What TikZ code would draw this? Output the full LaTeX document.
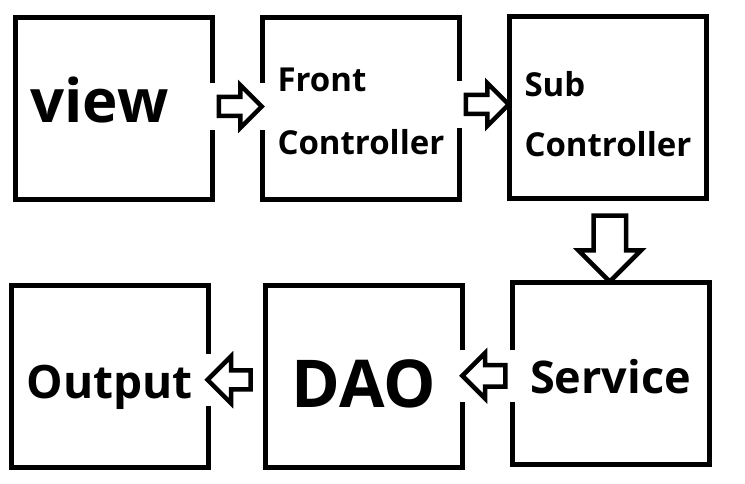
\documentclass[tikz,border=0pt]{standalone}
\usepackage{fontspec}
\setmainfont{Open Sans}
\usepackage{tikz}
\usetikzlibrary{shapes.arrows,calc}

\begin{document}
\begin{tikzpicture}[x=1pt,y=-1pt,
  box/.style={draw, line width=5pt, minimum height=182pt, text width=167pt, inner xsep=15pt, align=left},
  arr/.style={draw, single arrow, line width=4.5pt, line join=miter, inner xsep=0pt, inner ysep=7.25pt, single arrow head extend=12pt, single arrow tip angle=90, minimum height=43pt, fill=white},
  gap/.style={fill=white}]
\useasboundingbox (0,0) rectangle (745,484);
% top row
\node[box, text height=29pt, text depth=0pt, font=\bfseries\fontsize{60}{60}\selectfont] at (114,108.5) (view) {view};
\node[box, font=\bfseries\fontsize{33}{63}\selectfont] at (361,108.5) (front) {\rule{0pt}{30pt}Front\\Controller};
\node[box, font=\bfseries\fontsize{33}{60}\selectfont] at (608,107.5) (sub) {\rule{0pt}{39pt}Sub\\Controller};
% bottom row
\node[box, text height=43pt, text depth=0pt, font=\bfseries\fontsize{46}{46}\selectfont] at (110,376.5) (output) {Output};
\node[box, align=center, text height=62pt, text depth=0pt, font=\bfseries\fontsize{66}{66}\selectfont] at (364,376) (dao) {DAO};
\node[box, align=center, text height=39pt, text depth=0pt, font=\bfseries\fontsize{45}{45}\selectfont] at (610.5,373.5) (service) {Service};
% arrows
\coordinate (a1) at ($(view.east)!0.5!(front.west)+(-2,-2)$);
\coordinate (a2) at ($(front.east)!0.5!(sub.west)+(-2,-3.5)$);
\coordinate (a3) at ($(sub.south)!0.5!(service.north)+(0.5,0)$);
\coordinate (a4) at ($(service.west)!0.5!(dao.east)+(2,1)$);
\coordinate (a5) at ($(dao.west)!0.6!(output.east)+(2,3.5)$);
\fill[gap] ($(a1)+(-27,-23.5)$) rectangle ($(a1)+(31,23.5)$);
\fill[gap] ($(a2)+(-29,-23.5)$) rectangle ($(a2)+(21,23.5)$);
\fill[gap] ($(a4)+(-31,-26)$) rectangle ($(a4)+(27,26)$);
\fill[gap] ($(a5)+(-29.5,-26)$) rectangle ($(a5)+(23,26)$);
\node[arr] at (a1) (arr1) {};
\node[arr] at (a2) (arr2) {};
\node[arr, shape border rotate=270, inner xsep=14pt, inner ysep=0pt, single arrow head extend=15pt, minimum height=66pt] at (a3) (arr3) {};
\node[arr, shape border rotate=180, inner ysep=8.5pt] at (a4) (arr4) {};
\node[arr, shape border rotate=180, single arrow head extend=14pt] at (a5) (arr5) {};
\end{tikzpicture}
\end{document}
